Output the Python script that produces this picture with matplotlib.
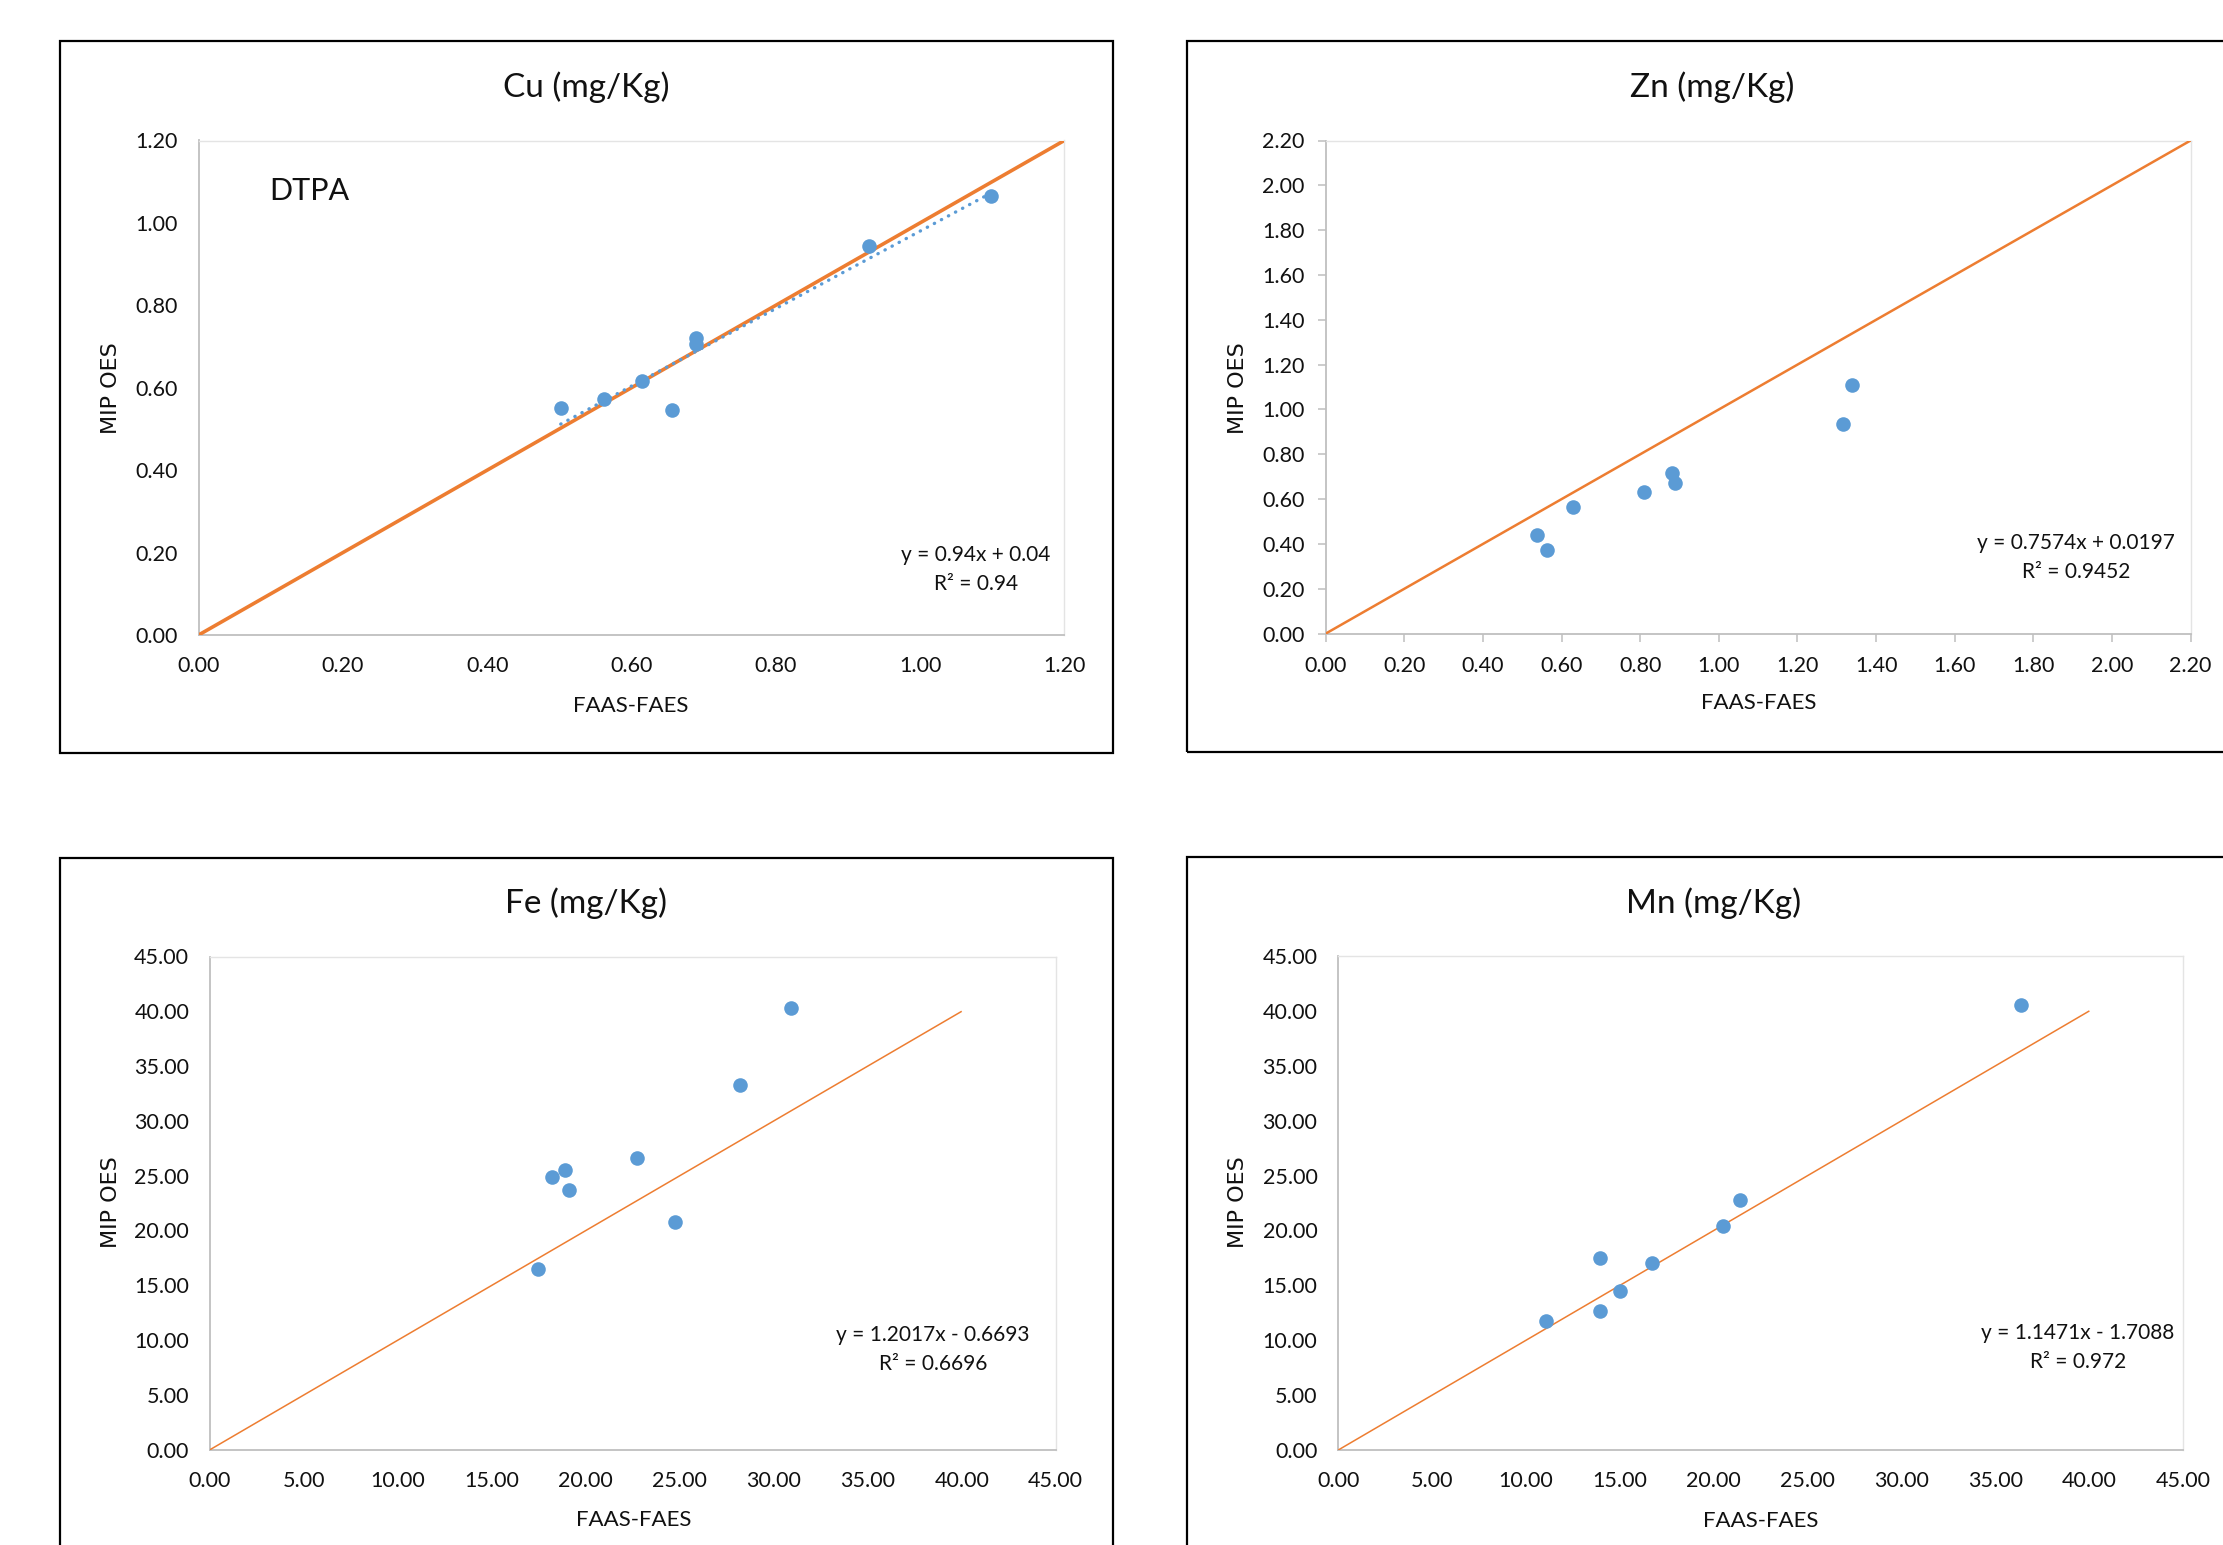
import numpy as np
import matplotlib
matplotlib.use("Agg")
import matplotlib.pyplot as plt
from matplotlib.patches import Rectangle

plt.rcParams['font.family'] = ['Lato', 'DejaVu Sans']

# ---- data ----
cu_x = [0.502, 0.562, 0.614, 0.656, 0.690, 0.690, 0.929, 1.098]
cu_y = [0.551, 0.572, 0.616, 0.547, 0.721, 0.707, 0.944, 1.066]
zn_x = [0.538, 0.563, 0.628, 0.809, 0.882, 0.888, 1.315, 1.339]
zn_y = [0.438, 0.375, 0.565, 0.633, 0.716, 0.673, 0.936, 1.107]
fe_x = [17.45, 18.21, 18.89, 19.12, 22.73, 24.74, 28.20, 30.94]
fe_y = [16.45, 24.90, 25.55, 23.67, 26.62, 20.75, 33.26, 40.28]
mn_x = [11.06, 13.96, 13.93, 15.02, 16.69, 20.48, 21.40, 36.36]
mn_y = [11.79, 17.49, 12.69, 14.46, 17.04, 20.39, 22.81, 40.58]

titles = ['Cu (mg/Kg)', 'Zn (mg/Kg)', 'Fe (mg/Kg)', 'Mn (mg/Kg)']
equations = ['y = 0.94x + 0.04', 'y = 0.7574x + 0.0197',
             'y = 1.2017x - 0.6693', 'y = 1.1471x - 1.7088']
r2_labels = ['R² = 0.94', 'R² = 0.9452', 'R² = 0.6696', 'R² = 0.972']
cu_fit = [0.94, 0.04]
axis_max = [1.2, 2.2, 45, 45]
axis_step = [0.2, 0.2, 5, 5]
ref_line_end = [1.2, 2.2, 40, 40]

W, H = 2223, 1545
ORANGE = '#ED7D31'
BLUE = '#5B9BD5'
TXT = '#111111'

fig = plt.figure(figsize=(W / 100, H / 100), dpi=100)


def fx(px):
    return px / W


def fy(py):
    return 1 - py / H


def add_panel(box, frame, xs, ys, k, title_xy, xlab_xy, ylab_xy, eq_xy, ticks, line_w):
    l, t, r, b = box
    ax = fig.add_axes([fx(l), fy(b), fx(r - l), (b - t) / H])
    ax.scatter(xs, ys, s=110, color=BLUE, zorder=3, linewidths=0)
    ax.plot([0, ref_line_end[k]], [0, ref_line_end[k]], color=ORANGE, lw=line_w, zorder=2,
            solid_capstyle='butt')
    ax.set_xlim(0, axis_max[k])
    ax.set_ylim(0, axis_max[k])
    tv = np.arange(0, axis_max[k] + axis_step[k] / 2, axis_step[k])
    ax.set_xticks(tv)
    ax.set_yticks(tv)
    ax.set_xticklabels(['%.2f' % v for v in tv])
    ax.set_yticklabels(['%.2f' % v for v in tv])
    if ticks:
        ax.tick_params(length=6, width=1.1, color='#BFBFBF', labelsize=15.5, labelcolor=TXT)
        ax.tick_params(axis='x', pad=10)
        ax.tick_params(axis='y', pad=9)
    else:
        ax.tick_params(length=0, labelsize=15.5, labelcolor=TXT)
        ax.tick_params(axis='x', pad=15)
        ax.tick_params(axis='y', pad=15)
    for side in ['left', 'bottom']:
        ax.spines[side].set_color('#BFBFBF')
        ax.spines[side].set_linewidth(1.3)
    for side in ['top', 'right']:
        ax.spines[side].set_color('#E4E4E4')
        ax.spines[side].set_linewidth(1.0)
    for sp in ax.spines.values():
        sp.set_zorder(1)
    fig.text(fx(title_xy[0]), fy(title_xy[1]), titles[k], fontsize=24, color=TXT,
             ha='center', va='center')
    fig.text(fx(xlab_xy[0]), fy(xlab_xy[1]), 'FAAS-FAES', fontsize=16, color=TXT,
             ha='center', va='center')
    fig.text(fx(ylab_xy[0]), fy(ylab_xy[1]), 'MIP OES', fontsize=16, color=TXT,
             ha='center', va='center', rotation=90, family='DejaVu Sans')
    fig.text(fx(eq_xy[0]), fy(eq_xy[1]), equations[k], fontsize=15, color=TXT,
             ha='center', va='center')
    fig.text(fx(eq_xy[0]), fy(eq_xy[1] + 29), r2_labels[k], fontsize=15, color=TXT,
             ha='center', va='center')
    fl, ft, fr, fb = frame
    fig.patches.append(Rectangle((fx(fl), fy(fb)), fx(fr - fl), (fb - ft) / H,
                                 transform=fig.transFigure, fill=False,
                                 edgecolor='black', lw=1.6))
    return ax


ax_cu = add_panel((198.6, 140.5, 1064.3, 635), (59.5, 41, 1113, 753), cu_x, cu_y, 0,
                  (586, 87), (631, 706), (111, 388), (976, 555), False, 2.6)
ax_zn = add_panel((1325.7, 140.5, 2190.6, 633.6), (1187, 41, 2260, 752), zn_x, zn_y, 1,
                  (1712, 87), (1759, 703), (1238.5, 388), (2076, 543), True, 1.8)
ax_fe = add_panel((210, 956.5, 1055.7, 1449.7), (59.5, 858, 1113, 1600), fe_x, fe_y, 2,
                  (586, 903), (633.6, 1520), (111, 1202), (933, 1334.6), False, 1.1)
ax_mn = add_panel((1338.3, 956, 2183.3, 1450), (1187, 857, 2260, 1600), mn_x, mn_y, 3,
                  (1714, 903), (1761, 1521), (1238.5, 1202), (2078, 1333), False, 1.1)

# dotted linear trendline on the Cu panel
tx = np.array([min(cu_x), max(cu_x)])
ax_cu.plot(tx, cu_fit[0] * tx + cu_fit[1], color=BLUE, lw=2.4, dashes=(0.1, 2.3),
           dash_capstyle='round', zorder=2.5)
fig.text(fx(309), fy(190.6), 'DTPA', fontsize=22, color=TXT, ha='center', va='center')

fig.savefig('out.png', dpi=100, facecolor='white')
